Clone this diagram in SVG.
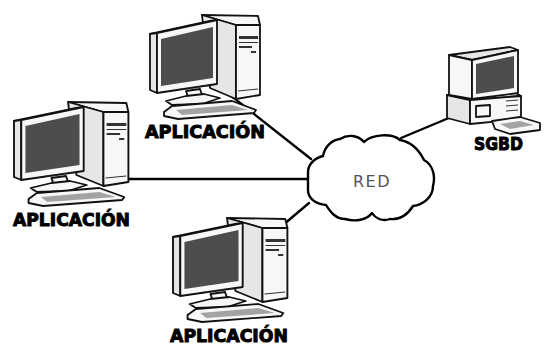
<svg xmlns="http://www.w3.org/2000/svg" width="545" height="345" viewBox="0 0 545 345">
<style>
.ln{stroke:#000;stroke-width:2.4;fill:none;stroke-linecap:round}
.o{stroke:#111;stroke-width:1.8;stroke-linejoin:round}
.w{fill:#f7f7f7}
.g1{fill:#e6e6e6}
.scr{fill:#4d4d4d}
.key{fill:#a3a3a3}
.dk{fill:#333}
.thin{stroke:#333;stroke-width:1;fill:none}
.lbl{font-family:"DejaVu Sans","Liberation Sans",sans-serif;font-weight:bold;font-size:18px;fill:#000;stroke:#000;stroke-width:1}
.red{font-family:"DejaVu Sans","Liberation Sans",sans-serif;font-size:16px;fill:#555;letter-spacing:1.5px}
.cloud{fill:#fff;stroke:#000;stroke-width:2.4;stroke-linejoin:round}
</style>
<defs>
  <!-- workstation icon: tower, monitor, stand and keyboard -->
  <g id="pc">
    <polygon class="o w" points="52,2 108,3 110,12 86,12"/>
    <polygon class="o g1" points="52,2 86,12 86,86 60,75"/>
    <polygon class="o w" points="86,12 110,12 110,82 86,86"/>
    <rect class="dk" x="89" y="23" width="19" height="3"/>
    <line class="thin" x1="89" y1="29.5" x2="108" y2="29.5"/>
    <rect class="dk" x="89" y="33" width="13" height="2"/>
    <rect class="dk" x="101" y="38" width="5" height="2"/>
    <line class="thin" x1="88" y1="78" x2="108" y2="76"/>
    <polygon class="o g1" points="0,21 60,8 67,7 7,20"/>
    <polygon class="o g1" points="0,21 7,20 7,80 0,77"/>
    <polygon class="o w" points="7,20 67,7 67,71 7,80"/>
    <polygon class="scr" points="11,26 63,14 63,65 11,73"/>
    <path class="thin" d="M30,76 h4 M38,75 h4 M46,74 h4 M54,73 h4"/>
    <polygon class="o w" points="36,78 50,76 52,82 38,84"/>
    <polygon class="o w" points="16,88 36,83 54,81 70,85 52,91 22,92"/>
    <polygon class="o w" points="14,99 22,93 82,88 106,97 104,100 28,106 14,103"/>
    <polygon class="key" points="26,97 82,92 98,97 32,102"/>
  </g>
</defs>

<g id="connectors">
  <line class="ln" x1="230" y1="95" x2="311" y2="159"/>
  <line class="ln" x1="122" y1="179" x2="308" y2="179"/>
  <line class="ln" x1="283" y1="225" x2="309" y2="203"/>
  <line class="ln" x1="401" y1="138" x2="456" y2="115"/>
</g>

<g id="red">
  <path class="cloud" d="M308,190 L308,172 C308,165 314,158 323,156 C325,146 332,140 340,139 C348,134 358,135 364,142 C372,134 392,133 400,140 C412,142 419,150 424,160 C432,164 436,175 433,186 C433,198 422,205 413,206 C408,214 400,220 390,219 C382,222 375,218 372,213 C367,220 355,222 345,219 C335,219 330,211 326,205 C315,204 308,198 308,190 Z"/>
  <text class="red" x="372" y="187" text-anchor="middle">RED</text>
</g>

<g id="app-top">
  <use href="#pc" transform="translate(150,13)"/>
  <text class="lbl" x="145" y="138" textLength="120" lengthAdjust="spacingAndGlyphs">APLICACIÓN</text>
</g>

<g id="app-left">
  <use href="#pc" transform="translate(14,100) scale(1.04,1)"/>
  <text class="lbl" x="13" y="226" textLength="117" lengthAdjust="spacingAndGlyphs">APLICACIÓN</text>
</g>

<g id="app-bottom">
  <use href="#pc" transform="translate(173,216) scale(1.04,1)"/>
  <text class="lbl" x="170" y="342" textLength="118" lengthAdjust="spacingAndGlyphs">APLICACIÓN</text>
</g>

<g id="sgbd">
  <!-- desktop case -->
  <polygon class="o w" points="447,95 512,91 521,96 470,100"/>
  <polygon class="o g1" points="447,95 470,100 470,124 447,118"/>
  <polygon class="o w" points="470,100 521,96 521,119 470,124"/>
  <polygon class="o w" points="476,106 490,105 490,116 476,117"/>
  <path class="thin" d="M506,101 L518,100 M506,106 L518,105 M506,111 L518,110" stroke-width="1.5"/>
  <!-- monitor -->
  <polygon class="o g1" points="449,55 510,47 518,50 472,60"/>
  <polygon class="o w" points="449,55 472,60 472,99 449,95"/>
  <polygon class="o w" points="472,60 518,50 518,93 472,99"/>
  <polygon class="scr" points="476,64 514,56 514,88 476,94"/>
  <!-- keyboard -->
  <polygon class="o w" points="492,121 520,117 540,123 540,130 510,134 495,129"/>
  <polygon class="key" points="500,124 520,121 534,125 510,129"/>
  <text class="lbl" x="474" y="150" textLength="49" lengthAdjust="spacingAndGlyphs">SGBD</text>
</g>
</svg>
